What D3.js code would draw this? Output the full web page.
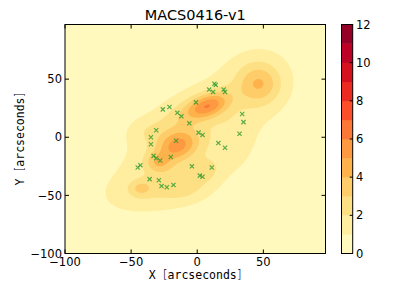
<!DOCTYPE html>
<html><head><meta charset="utf-8">
<script src="https://cdn.jsdelivr.net/npm/d3@7"></script>
<style>body{margin:0;background:#fff}svg{display:block}</style>
</head><body><svg id="c" width="399" height="299"></svg>
<script>
// ---- data ----
const title = "MACS0416-v1";
const xTicks = [-100, -50, 0, 50];
const yTicks = [-100, -50, 0, 50];
const cbarTicks = [0, 2, 4, 6, 8, 10, 12];
const levels = [0,1,2,3,4,5,6,7,8,9,10,11,12];
// density modelled as Gaussian components (arcsec)
//              base  A    B    D    C   Cb    E   LowR  Hole  Right Left  UL   dot
const blobX   = [  0,   8, -15, -30,  47,  45, -43, -30, -10,   8,  28, -38, -15, -10];
const blobY   = [  5,  27,  -7, -22,  46,  50, -44, -45, -42, -28,  -5,   5,  18,  11];
const blobAmp = [1.6, 4.4, 4.0, 2.0, 2.4, 0.7, 1.5, 1.0, 1.1, 1.0, 0.7, 0.8, 0.9, 0.8];
const blobSx  = [ 70,  12,  12,   7,  11,  16,   6,  25,  14,   8,  10,  10,  14,   2];
const blobSy  = [ 32,   7,   9,   6,  12,  18,   5,  12,  10,   8,  18,   8,   8, 1.5];
const blobRot = [ 42,  25,  30,   0,   0,   0,   0,  10,   0,   0,   0,   0,  30,   0];
// green x markers
const markX = [13, 14, 9, 12, 20, 21, -1, -26, -21, -15, -12, -6, 34, 35, 32, 1, 4, -31, -35, -35, -16, 16, 21, -33, -31, -28, -20, -43, -45, -4, 11, 2, 4, -36, -29, -27, -23, -18];
const markY = [46, 45, 41, 39, 41, 39, 30, 24, 26, 21, 18, 12, 20, 13, 3, 4, 2, 6, 0, -6, -3, -5, -9, -16, -18, -20, -17, -24, -26, -25, -26, -33, -34, -36, -37, -42, -43, -41];

// ---- colormap (matplotlib YlOrRd, linear segments) ----
const ylorrd = ["#ffffcc","#ffeda0","#fed976","#feb24c","#fd8d3c","#fc4e2a","#e31a1c","#bd0026","#800026"];
const cmap = d3.scaleLinear().domain(d3.range(9).map(i => i/8)).range(ylorrd).interpolate(d3.interpolateRgb);
const bandColor = i => cmap((i + 0.5) / 12);

// ---- layout ----
const L = 65, R = 325.5, T = 24.5, B = 253.5;
const xDom = [-100, 97], yDom = [-100, 97];
const x = d3.scaleLinear().domain(xDom).range([L, R]);
const y = d3.scaleLinear().domain(yDom).range([B, T]);
const svg = d3.select("#c");
const fmt = d => d < 0 ? "\u2212" + Math.abs(d) : String(d);
const font = "DejaVu Sans";

// ---- density grid ----
const step = 0.5;
const nx = Math.round((xDom[1]-xDom[0])/step) + 1, ny = Math.round((yDom[1]-yDom[0])/step) + 1;
const vals = new Float64Array(nx*ny);
for (let j = 0; j < ny; j++) {
  const yy = yDom[1] - j*step;
  for (let i = 0; i < nx; i++) {
    const xx = xDom[0] + i*step;
    let s = 0;
    for (let k = 0; k < blobX.length; k++) {
      const a = blobRot[k]*Math.PI/180, dx = xx-blobX[k], dy = yy-blobY[k];
      const u = (dx*Math.cos(a)+dy*Math.sin(a))/blobSx[k];
      const v = (-dx*Math.sin(a)+dy*Math.cos(a))/blobSy[k];
      s += blobAmp[k]*Math.exp(-0.5*(u*u+v*v));
    }
    vals[j*nx+i] = s;
  }
}
const contours = d3.contours().size([nx, ny]).thresholds(levels.slice(1, -1))(vals);
const proj = d3.geoTransform({point(gx, gy){
  this.stream.point(x(xDom[0] + (gx-0.5)*step), y(yDom[1] - (gy-0.5)*step));
}});
const path = d3.geoPath(proj);

svg.append("clipPath").attr("id","clip").append("rect").attr("x",L).attr("y",T).attr("width",R-L).attr("height",B-T);
const g = svg.append("g").attr("clip-path","url(#clip)");
g.append("rect").attr("x",L).attr("y",T).attr("width",R-L).attr("height",B-T).attr("fill",bandColor(0));
g.selectAll("path.c").data(contours).join("path").attr("class","c")
  .attr("d", path).attr("fill", d => bandColor(levels.indexOf(d.value))).attr("stroke","none");

// markers
svg.append("g").selectAll("path").data(markX.map((v,i)=>[v, markY[i]])).join("path")
  .attr("d", d => { const px = x(d[0]), py = y(d[1]), r = 2.1;
    return `M${px-r},${py-r}L${px+r},${py+r}M${px-r},${py+r}L${px+r},${py-r}`; })
  .attr("stroke","#22982a").attr("stroke-width",1.2).attr("stroke-opacity",0.75).attr("fill","none");

// axes (inward ticks on all sides)
const tl = 4;
const ax = svg.append("g");
xTicks.forEach(t => {
  ax.append("line").attr("x1",x(t)).attr("x2",x(t)).attr("y1",B).attr("y2",B-tl).attr("stroke","#000");
  ax.append("line").attr("x1",x(t)).attr("x2",x(t)).attr("y1",T).attr("y2",T+tl).attr("stroke","#000");
  ax.append("text").attr("x",x(t)).attr("y",266).attr("text-anchor","middle")
    .attr("font-family",font).attr("font-size",11.5).text(fmt(t));
});
yTicks.forEach(t => {
  ax.append("line").attr("x1",L).attr("x2",L+tl).attr("y1",y(t)).attr("y2",y(t)).attr("stroke","#000");
  ax.append("line").attr("x1",R).attr("x2",R-tl).attr("y1",y(t)).attr("y2",y(t)).attr("stroke","#000");
  ax.append("text").attr("x",62).attr("y",y(t)).attr("dy","0.36em").attr("text-anchor","end")
    .attr("font-family",font).attr("font-size",11.5).text(fmt(t));
});
svg.append("rect").attr("x",L).attr("y",T).attr("width",R-L).attr("height",B-T)
  .attr("fill","none").attr("stroke","#000").attr("stroke-width",1);

// labels
svg.append("text").attr("x",(L+R)/2).attr("y",20).attr("text-anchor","middle")
  .attr("font-family",font).attr("font-size",14.5).text(title);
const mono = "DejaVu Sans Mono";
function axisLabel(sel, letter){
  sel.append("tspan").text(letter + " ");
  sel.append("tspan").attr("font-family","DejaVu Sans").attr("font-size",12.5).attr("font-weight","200").text("[");
  sel.append("tspan").text("arcseconds");
  sel.append("tspan").attr("font-family","DejaVu Sans").attr("font-size",12.5).attr("font-weight","200").text("]");
}
axisLabel(svg.append("text").attr("x",(L+R)/2).attr("y",278.5).attr("text-anchor","middle")
  .attr("font-family",mono).attr("font-size",11.5), "X");
axisLabel(svg.append("text").attr("transform",`translate(24,${(T+B)/2}) rotate(-90)`).attr("text-anchor","middle")
  .attr("font-family",mono).attr("font-size",11.5), "Y");

// colorbar
const cL = 341.5, cR = 352.7;
const cy = d3.scaleLinear().domain([0,12]).range([B, T]);
const cb = svg.append("g");
cb.selectAll("rect.b").data(d3.range(12)).join("rect").attr("class","b")
  .attr("x",cL).attr("width",cR-cL).attr("y",d => cy(d+1)).attr("height",d => cy(d)-cy(d+1)+0.3)
  .attr("fill",d => bandColor(d));
cb.append("rect").attr("x",cL).attr("y",T).attr("width",cR-cL).attr("height",B-T).attr("fill","none").attr("stroke","#000");
cbarTicks.forEach(t => {
  cb.append("line").attr("x1",cR).attr("x2",cR-3).attr("y1",cy(t)).attr("y2",cy(t)).attr("stroke","#000");
  cb.append("text").attr("x",356).attr("y",cy(t)).attr("dy","0.36em").attr("font-family",font).attr("font-size",11.5).text(t);
});
</script></body></html>
